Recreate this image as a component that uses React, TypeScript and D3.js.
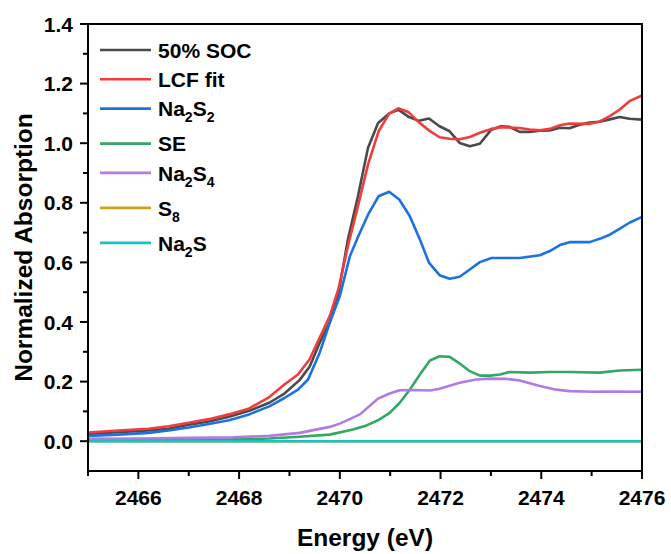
import React from 'react';
import * as d3 from 'd3';

type Pt = [number, number];

// 50% SOC measured spectrum
const soc:Pt[] = [
  [2465.0, 0.024], [2465.6, 0.030], [2466.2, 0.036], [2466.6, 0.042], [2467.0, 0.055], [2467.4, 0.066],
  [2467.8, 0.082], [2468.2, 0.102], [2468.6, 0.129], [2468.9, 0.160], [2469.2, 0.205], [2469.4, 0.250],
  [2469.6, 0.330], [2469.8, 0.400], [2469.97, 0.492], [2470.16, 0.677], [2470.36, 0.822], [2470.56, 0.985],
  [2470.76, 1.068], [2470.98, 1.100], [2471.17, 1.112], [2471.36, 1.089], [2471.57, 1.075], [2471.77, 1.083],
  [2471.98, 1.057], [2472.18, 1.040], [2472.38, 1.001], [2472.58, 0.990], [2472.78, 0.998], [2473.0, 1.044],
  [2473.2, 1.057], [2473.37, 1.055], [2473.57, 1.038], [2473.77, 1.038], [2473.97, 1.042], [2474.17, 1.043],
  [2474.37, 1.052], [2474.56, 1.050], [2474.76, 1.062], [2474.96, 1.069], [2475.16, 1.072], [2475.36, 1.080],
  [2475.56, 1.088], [2475.75, 1.082], [2476.0, 1.079],
];
const lcfFit:Pt[] = [
  [2465.0, 0.029], [2465.6, 0.036], [2466.2, 0.042], [2466.6, 0.050], [2467.0, 0.062], [2467.4, 0.074],
  [2467.8, 0.090], [2468.2, 0.110], [2468.6, 0.148], [2468.9, 0.190], [2469.17, 0.224], [2469.4, 0.275],
  [2469.6, 0.347], [2469.8, 0.420], [2469.97, 0.509], [2470.16, 0.654], [2470.36, 0.789], [2470.56, 0.929],
  [2470.77, 1.040], [2470.98, 1.099], [2471.16, 1.117], [2471.36, 1.105], [2471.57, 1.070], [2471.77, 1.043],
  [2471.98, 1.020], [2472.18, 1.015], [2472.38, 1.013], [2472.58, 1.021], [2472.78, 1.035], [2473.01, 1.048],
  [2473.21, 1.054], [2473.57, 1.051], [2473.77, 1.046], [2473.97, 1.043], [2474.17, 1.048], [2474.37, 1.060],
  [2474.56, 1.066], [2474.96, 1.065], [2475.16, 1.073], [2475.36, 1.091], [2475.56, 1.113], [2475.75, 1.141],
  [2476.0, 1.160],
];
const na2s2:Pt[] = [
  [2465.0, 0.018], [2465.6, 0.022], [2466.2, 0.028], [2466.6, 0.036], [2467.0, 0.046], [2467.4, 0.058],
  [2467.8, 0.070], [2468.2, 0.090], [2468.6, 0.117], [2468.9, 0.145], [2469.17, 0.173], [2469.37, 0.207],
  [2469.6, 0.297], [2469.8, 0.397], [2470.0, 0.487], [2470.2, 0.621], [2470.36, 0.685], [2470.56, 0.760],
  [2470.77, 0.822], [2470.98, 0.837], [2471.18, 0.811], [2471.39, 0.755], [2471.59, 0.677], [2471.77, 0.599],
  [2471.98, 0.557], [2472.18, 0.545], [2472.38, 0.552], [2472.58, 0.576], [2472.78, 0.601], [2473.01, 0.615],
  [2473.57, 0.615], [2473.97, 0.624], [2474.17, 0.638], [2474.37, 0.658], [2474.56, 0.668], [2474.96, 0.668],
  [2475.16, 0.679], [2475.36, 0.693], [2475.56, 0.713], [2475.75, 0.733], [2476.0, 0.753],
];
const se:Pt[] = [
  [2465.0, 0.002], [2466.0, 0.003], [2467.0, 0.004], [2468.0, 0.006], [2468.6, 0.009], [2469.2, 0.015],
  [2469.8, 0.022], [2470.26, 0.039], [2470.53, 0.053], [2470.79, 0.073], [2470.99, 0.095], [2471.19, 0.129],
  [2471.39, 0.173], [2471.59, 0.224], [2471.79, 0.271], [2471.98, 0.285], [2472.18, 0.283], [2472.38, 0.261],
  [2472.58, 0.235], [2472.78, 0.220], [2472.98, 0.220], [2473.18, 0.224], [2473.37, 0.232], [2473.77, 0.230],
  [2474.17, 0.232], [2474.56, 0.232], [2475.16, 0.230], [2475.56, 0.237], [2476.0, 0.240],
];
const na2s4:Pt[] = [
  [2465.0, 0.008], [2466.0, 0.009], [2467.0, 0.011], [2467.88, 0.013], [2468.6, 0.018], [2469.2, 0.028],
  [2469.8, 0.048], [2470.0, 0.059], [2470.4, 0.090], [2470.76, 0.143], [2470.99, 0.160], [2471.19, 0.171],
  [2471.46, 0.172], [2471.79, 0.170], [2471.98, 0.176], [2472.38, 0.196], [2472.71, 0.207], [2472.98, 0.210],
  [2473.31, 0.209], [2473.57, 0.204], [2473.97, 0.185], [2474.3, 0.173], [2474.56, 0.168], [2475.03, 0.166],
  [2475.36, 0.167], [2476.0, 0.166],
];
const s8:Pt[] = [[2465.0, 0.0], [2470.0, 0.0], [2476.0, 0.0]];
const na2s:Pt[] = [[2465.0, 0.0], [2470.0, 0.0], [2476.0, 0.0]];

// "_" marks the next char as subscript
const seriesNames = ["50% SOC", "LCF fit", "Na_2S_2", "SE", "Na_2S_4", "S_8", "Na_2S"];
const seriesData = [soc, lcfFit, na2s2, se, na2s4, s8, na2s];
const colors = ["#4a4a4a", "#f03c3c", "#1c72e3", "#33a865", "#b27be3", "#d4a017", "#17c4c4"];

const xTickValues = [2466, 2468, 2470, 2472, 2474, 2476];
const xMinorValues = [2465, 2467, 2469, 2471, 2473, 2475];
const yTickValues = [0.0, 0.2, 0.4, 0.6, 0.8, 1.0, 1.2, 1.4];
const yMinorValues = [0.1, 0.3, 0.5, 0.7, 0.9, 1.1, 1.3];

const width = 671;
const height = 554;
const marginLeft = 88;
const marginRight = 29;
const marginTop = 24;
const marginBottom = 83;
const boundedWidth = width - marginLeft - marginRight;
const boundedHeight = height - marginTop - marginBottom;
const font = "'Liberation Sans', Arial, sans-serif";

const xScale = d3.scaleLinear().domain([2465, 2476]).range([0, boundedWidth]);
const yScale = d3.scaleLinear().domain([-0.1, 1.4]).range([boundedHeight, 0]);

const LegendLabel = ({label}:{label:string}) => {
  const parts:JSX.Element[] = [];
  let shifted = false;
  for (let i = 0; i < label.length; i++) {
    if (label[i] === "_") {
      parts.push(<tspan key={i} dy={6} fontSize={14}>{label[i+1]}</tspan>);
      shifted = true;
      i++;
    } else {
      parts.push(<tspan key={i} dy={shifted ? -6 : 0}>{label[i]}</tspan>);
      shifted = false;
    }
  }
  return <>{parts}</>;
}

const App = () => {
  const line = d3.line<Pt>().x(d=>xScale(d[0])).y(d=>yScale(d[1]));

  // row positions: subscripted rows push the next one down a bit
  const rowY:number[] = [];
  seriesNames.forEach((n, i)=>{
    if (i === 0) rowY.push(50);
    else rowY.push(rowY[i-1] + (seriesNames[i-1].includes("_") ? 35 : 29.3));
  });

  return (
    <svg width={width} height={height} style={{position:"absolute", left:0, top:0, background:"white"}} fontFamily={font} fontWeight="bold">
      <g transform={`translate(${marginLeft}, ${marginTop})`}>
        {seriesData.map((d, i)=>(
          <path key={i} d={line(d) || ""} fill="none" stroke={colors[i]} strokeWidth={2.6} strokeLinejoin="round"/>
        ))}
        <rect width={boundedWidth} height={boundedHeight} fill="none" stroke="black" strokeWidth={2}/>
        {/* x axis */}
        <g transform={`translate(0, ${boundedHeight})`}>
          {xTickValues.map(v=>(
            <g key={v} transform={`translate(${xScale(v)}, 0)`}>
              <line y2={8} stroke="black" strokeWidth={2}/>
              <text y={34} textAnchor="middle" fontSize={21} fill="black">{v}</text>
            </g>
          ))}
          {xMinorValues.map(v=>(
            <line key={v} x1={xScale(v)} x2={xScale(v)} y2={5} stroke="black" strokeWidth={2}/>
          ))}
        </g>
        {/* y axis */}
        {yTickValues.map(v=>(
          <g key={v} transform={`translate(0, ${yScale(v)})`}>
            <line x2={-8} stroke="black" strokeWidth={2}/>
            <text x={-15} y={7.5} textAnchor="end" fontSize={21} fill="black">{v.toFixed(1)}</text>
          </g>
        ))}
        {yMinorValues.map(v=>(
          <line key={v} y1={yScale(v)} y2={yScale(v)} x2={-5} stroke="black" strokeWidth={2}/>
        ))}
      </g>
      <text x={marginLeft + boundedWidth/2} y={546} textAnchor="middle" fontSize={24.5} fill="black">Energy (eV)</text>
      <text transform={`translate(32, ${marginTop + boundedHeight/2}) rotate(-90)`} textAnchor="middle" fontSize={24.5} fill="black">Normalized Absorption</text>
      {/* legend */}
      {seriesNames.map((n, i)=>(
        <g key={n} transform={`translate(100, ${rowY[i]})`}>
          <line x1={0} x2={51} stroke={colors[i]} strokeWidth={2.6}/>
          <text x={58} y={7.7} fontSize={21} fill="black"><LegendLabel label={n}/></text>
        </g>
      ))}
    </svg>
  )
}

export default App;
